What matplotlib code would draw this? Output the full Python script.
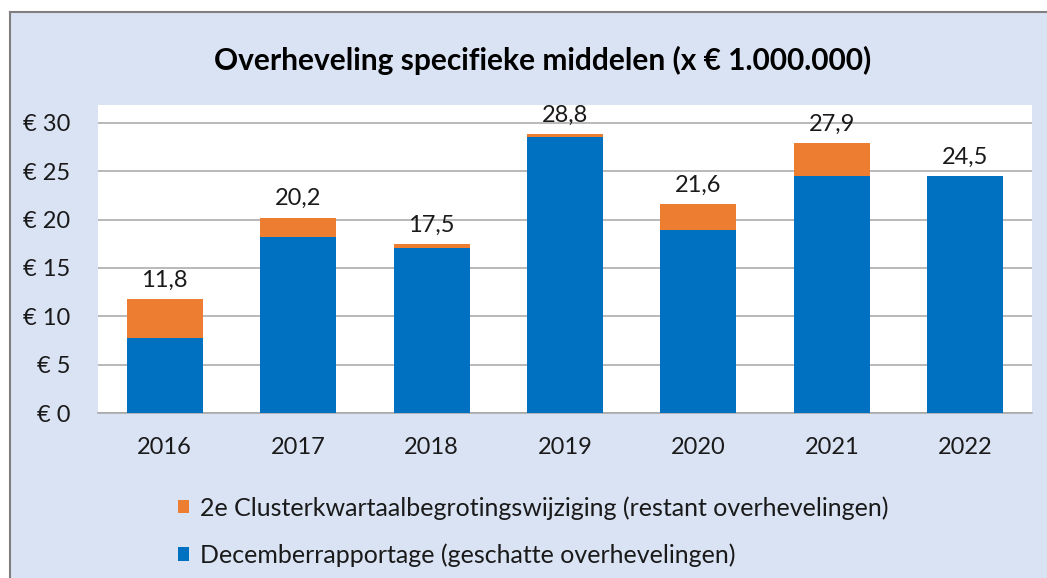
import matplotlib
matplotlib.use("Agg")
import matplotlib.pyplot as plt
from matplotlib.patches import Rectangle, Patch
from matplotlib.lines import Line2D

years = ["2016", "2017", "2018", "2019", "2020", "2021", "2022"]
december = [7.8, 18.2, 17.1, 28.5, 18.9, 24.5, 24.5]
cluster = [4.0, 2.0, 0.4, 0.3, 2.7, 3.4, 0.0]
totals = [11.8, 20.2, 17.5, 28.8, 21.6, 27.9, 24.5]
total_labels = ["11,8", "20,2", "17,5", "28,8", "21,6", "27,9", "24,5"]
yticks = [0, 5, 10, 15, 20, 25, 30]
ytick_labels = ["€ 0", "€ 5", "€ 10", "€ 15", "€ 20", "€ 25", "€ 30"]
series_names = ["2e Clusterkwartaalbegrotingswijziging (restant overhevelingen)",
                "Decemberrapportage (geschatte overhevelingen)"]

BLUE = "#0070C0"
ORANGE = "#ED7D31"
BG = "#DAE3F3"
FONT = ["Lato", "DejaVu Sans"]

plt.rcParams['font.family'] = FONT

W, H = 1047, 578
fig = plt.figure(figsize=(W / 100, H / 100), dpi=100)
fig.patch.set_facecolor("white")

# chart area background with left and top border
bx, by = 9.5 / W, 1 - 12 / H
fig.patches.append(Rectangle((bx, 0), 1 - bx + 0.01, by,
                             transform=fig.transFigure, facecolor=BG,
                             edgecolor="none", zorder=-2))
fig.lines.append(Line2D([bx, bx], [0, by], transform=fig.transFigure,
                        color="#7F7F7F", linewidth=1.5, zorder=-1))
fig.lines.append(Line2D([bx, 1.01], [by, by], transform=fig.transFigure,
                        color="#7F7F7F", linewidth=1.5, zorder=-1))

ax = fig.add_axes([98 / W, (H - 413) / H, (1032 - 98) / W, (413 - 105) / H])
ax.set_zorder(2)
ax.set_facecolor("white")

x = list(range(len(years)))
w = 0.57
ax.bar(x, december, width=w, color=BLUE, zorder=3)
ax.bar(x, cluster, width=w, bottom=december, color=ORANGE, zorder=3)

for xi, t, lab in zip(x, totals, total_labels):
    ax.annotate(lab, (xi, t), xytext=(0, 6), textcoords="offset points",
                ha="center", va="bottom", fontsize=17, color="#1a1a1a")

ax.set_xlim(-0.5, len(years) - 0.5)
ax.set_ylim(0, 31.85)
ax.set_yticks(yticks)
ax.set_yticklabels(ytick_labels)
ax.set_xticks(x)
ax.set_xticklabels(years)
ax.tick_params(axis="both", length=0, labelsize=17, colors="#1a1a1a")
ax.tick_params(axis="y", pad=20)
ax.tick_params(axis="x", pad=17)
ax.grid(axis="y", color="#A6A6A6", linewidth=1.1, zorder=0)
ax.set_axisbelow(True)
for s in ["top", "right", "left"]:
    ax.spines[s].set_visible(False)
ax.spines["bottom"].set_color("#A6A6A6")
ax.spines["bottom"].set_linewidth(1.1)

fig.text(543 / W, 1 - 60 / H, "Overheveling specifieke middelen (x € 1.000.000)",
         ha="center", va="center", fontsize=21.5, fontweight="bold", color="black")

handles = [Patch(facecolor=ORANGE, edgecolor="none"),
           Patch(facecolor=BLUE, edgecolor="none")]
leg = fig.legend(handles, series_names, loc="upper left",
                 bbox_to_anchor=(168 / W, 1 - 486 / H), frameon=False,
                 fontsize=18, handlelength=0.45, handleheight=0.45,
                 handletextpad=0.45, labelspacing=0.95, borderaxespad=0)
for t in leg.get_texts():
    t.set_color("#1a1a1a")

fig.savefig("out.png", dpi=100, facecolor="white")
